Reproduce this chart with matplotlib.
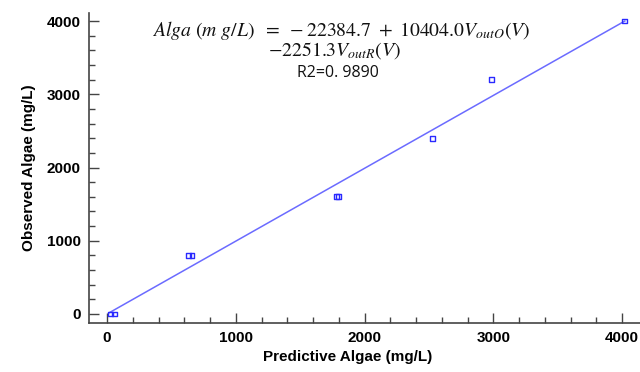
import numpy as np
import matplotlib.pyplot as plt
from matplotlib.ticker import MultipleLocator

# observed vs predicted algae concentration (mg/L)
predicted = [30, 55, 635, 660, 1780, 1800, 2525, 2985, 4020]
observed = [0, 0, 800, 800, 1600, 1600, 2400, 3200, 4000]

# 1:1 fitted line end points
fit_x = [20, 4020]
fit_y = [20, 4000]

x_ticks = [0, 1000, 2000, 3000, 4000]
y_ticks = [0, 1000, 2000, 3000, 4000]

plt.rcParams['mathtext.fontset'] = 'stix'
plt.rcParams['font.family'] = ['Liberation Sans', 'DejaVu Sans']

fig = plt.figure(figsize=(6.4, 3.72), dpi=100)
ax = fig.add_axes([89 / 640, 49 / 372, 551 / 640, 310 / 372])

ax.plot(fit_x, fit_y, color='#6b6bff', lw=1.1, zorder=2)
ax.scatter(predicted, observed, marker='s', s=12, facecolors='none',
           edgecolors='#2a2aff', linewidths=1.0, zorder=3)

ax.set_xlim(-140, 4138)
ax.set_ylim(-123, 4110)
ax.set_xticks(x_ticks)
ax.set_yticks(y_ticks)
ax.xaxis.set_minor_locator(MultipleLocator(200))
ax.yaxis.set_minor_locator(MultipleLocator(200))
ax.tick_params(which='major', direction='in', length=7, width=1, color='#444444',
               labelsize=11, pad=6)
ax.tick_params(which='minor', direction='in', length=4, width=1, color='#444444')
for lab in ax.get_xticklabels() + ax.get_yticklabels():
    lab.set_fontweight('bold')

for side in ['top', 'right']:
    ax.spines[side].set_visible(False)
for side in ['left', 'bottom']:
    ax.spines[side].set_color('#444444')
    ax.spines[side].set_linewidth(1.2)

ax.set_xlabel('Predictive Algae (mg/L)', fontsize=11, fontweight='bold')
ax.set_ylabel('Observed Algae (mg/L)', fontsize=11, fontweight='bold', labelpad=8)
ax.xaxis.set_label_coords(0.47, -0.088)

# regression equation
fig.text(152 / 640, 1 - 30 / 372,
         r'$Alga\ (m\ g/L)\ \ =\ -22384.7\ +\ 10404.0V_{outO}(V)$',
         fontsize=14.2, ha='left', va='center', color='#111111')
fig.text(268 / 640, 1 - 51 / 372, r'$-2251.3V_{outR}(V)$',
         fontsize=14.2, ha='left', va='center', color='#111111')
fig.text(338 / 640, 1 - 73 / 372, 'R2=0. 9890', fontsize=11.5, ha='center',
         va='center', color='#111111', family=['Open Sans', 'DejaVu Sans'])

fig.savefig('out.png', dpi=100)
